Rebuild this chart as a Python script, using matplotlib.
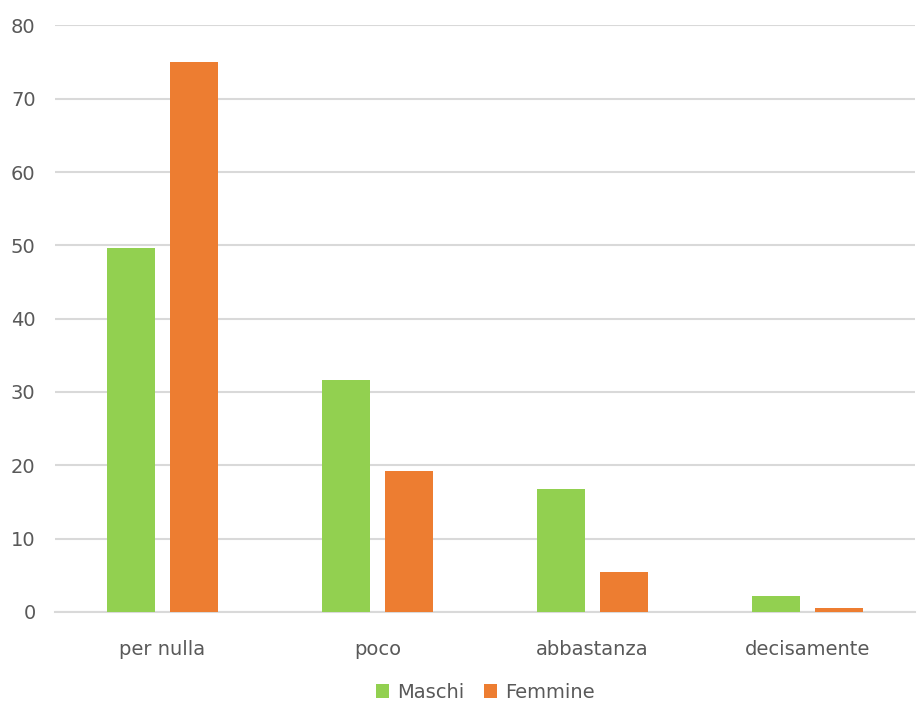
import matplotlib.pyplot as plt
import numpy as np

categories = ["per nulla", "poco", "abbastanza", "decisamente"]
maschi = [49.6, 31.7, 16.8, 2.2]
femmine = [75.0, 19.2, 5.5, 0.6]
y_ticks = [0, 10, 20, 30, 40, 50, 60, 70, 80]

GREEN = "#92D050"
ORANGE = "#ED7D31"
GRID = "#D9D9D9"
TEXT = "#595959"


def main():
    plt.rcParams["font.family"] = ["DejaVu Sans"]

    fig = plt.figure(figsize=(9.17, 7.04), dpi=100)
    ax = fig.add_axes([0.06, 0.1307, 0.938, 0.8333])

    x = np.arange(len(categories))
    width = 0.223
    ax.bar(x - 0.146, maschi, width, color=GREEN, label="Maschi", zorder=3)
    ax.bar(x + 0.146, femmine, width, color=ORANGE, label="Femmine", zorder=3)

    ax.set_xlim(-0.5, len(categories) - 0.5)
    ax.set_ylim(0, 80)
    ax.set_yticks(y_ticks)
    ax.set_xticks(x)
    ax.set_xticklabels(categories)

    ax.yaxis.grid(True, color=GRID, linewidth=1.5, zorder=0)
    for side in ["top", "right", "left"]:
        ax.spines[side].set_visible(False)
    ax.spines["bottom"].set_color(GRID)
    ax.spines["bottom"].set_linewidth(1.5)
    ax.tick_params(axis="both", length=0, colors=TEXT, labelsize=14)
    ax.tick_params(axis="x", pad=20)
    ax.tick_params(axis="y", pad=14)

    ax.legend(loc="center", bbox_to_anchor=(0.5, -0.137), ncol=2,
              frameon=False, fontsize=14, labelcolor=TEXT,
              handlelength=0.7, handleheight=0.7, handletextpad=0.4,
              columnspacing=1.0, borderpad=0.2)

    fig.savefig("out.png", dpi=100)


if __name__ == "__main__":
    main()
